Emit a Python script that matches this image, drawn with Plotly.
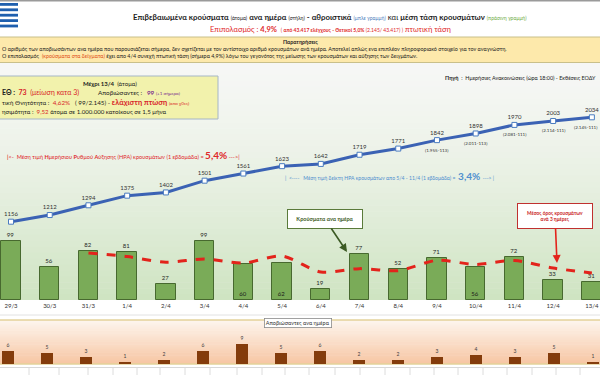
import plotly.graph_objects as go

# ---------------- data ----------------
dates = ["29/3", "30/3", "31/3", "1/4", "2/4", "3/4", "4/4", "5/4",
         "6/4", "7/4", "8/4", "9/4", "10/4", "11/4", "12/4", "13/4"]
daily_cases = [99, 56, 82, 81, 27, 99, 60, 62, 19, 77, 52, 71, 56, 72, 33, 31]
cumulative_cases = [1156, 1212, 1294, 1375, 1402, 1501, 1561, 1623,
                    1642, 1719, 1771, 1842, 1898, 1970, 2003, 2034]
avg_3days = [None, None, 79.0, 73.0, 63.3, 69.0, 62.0, 73.7,
             47.0, 52.7, 49.3, 66.7, 59.7, 66.3, 53.7, 45.3]
daily_deaths = [6, 5, 3, 1, 2, 6, 9, 5, 6, 2, 2, 3, 4, 3, 5, 1]
cumulative_notes = [None, None, None, None, None, None, None, None,
                    None, None, None, "(1.955-113)", "(2.011-113)",
                    "(2.081-111)", "(2.114-111)", "(2.145-111)"]

W, H = 600, 375
FONT = "Lato"


def px(x):
    return x / W


def py(y):
    return 1 - y / H


def mix(c1, c2, t):
    a = [int(c1[i:i + 2], 16) for i in (1, 3, 5)]
    b = [int(c2[i:i + 2], 16) for i in (1, 3, 5)]
    return "rgb(%d,%d,%d)" % tuple(round(a[k] + (b[k] - a[k]) * t) for k in range(3))


shapes = []


def rect(x0, y0, x1, y1, fill, line=None, lw=0, layer="below"):
    shapes.append(dict(type="rect", xref="paper", yref="paper",
                       x0=px(x0), x1=px(x1), y0=py(y1), y1=py(y0),
                       fillcolor=fill, line=dict(color=line or fill, width=lw),
                       layer=layer))


def hline(y, color, width=1, x0=0, x1=600):
    shapes.append(dict(type="line", xref="paper", yref="paper",
                       x0=px(x0), x1=px(x1), y0=py(y), y1=py(y),
                       line=dict(color=color, width=width), layer="below"))


# main background gradient
N = 40
top, bot = 63, 300
for i in range(N):
    y0 = top + (bot - top) * i / N
    y1 = top + (bot - top) * (i + 1) / N + 0.6
    t = (i / (N - 1)) ** 1.4
    rect(0, y0, 600, y1, mix("#f6f7f5", "#cfe4c2", t))

# deaths panel gradient
N2 = 20
for i in range(N2):
    y0 = 320 + 44 * i / N2
    y1 = 320 + 44 * (i + 1) / N2 + 0.6
    t = i / (N2 - 1)
    rect(0, y0, 600, y1, mix("#fdf4ec", "#f7c7a5", t))

rect(0, 300, 600, 320, "#ffffff")
rect(0, 364, 600, 375, "#ffffff")
hline(0.8, "#9a9a9a", 1.5)
hline(315, "#e2e2e2", 1)
hline(320, "#e3d29a", 1.5)
hline(364, "#e3d29a", 1.5)
hline(367.5, "#d8d8d8", 1)
for gx in [29, 59, 88, 113, 137, 160, 185, 210, 237, 262, 285, 309, 335, 360,
           385, 410, 434, 458, 483, 507, 532, 556, 580]:
    shapes.append(dict(type="line", xref="paper", yref="paper",
                       x0=px(gx), x1=px(gx), y0=py(375), y1=py(367.5),
                       line=dict(color="#dcdcdc", width=1), layer="below"))

# notes box
rect(-2, 37, 602, 62.5, "#fde9ab", "#c9c08a", 1)
# info box
rect(-2, 76, 218, 119, "#f2f2ac", "#a6b6c6", 1)
# greek flag stripes
for k in range(5):
    rect(0, 3 + k * 5.4, 18, 3 + k * 5.4 + 2.8, "#1f5fae", layer="above")

# ---------------- traces ----------------
fig = go.Figure()

bar_pos = ["outside"] * len(daily_cases)
for k in (6, 7, 12):
    bar_pos[k] = "inside"

fig.add_trace(go.Bar(
    x=dates, y=daily_cases, xaxis="x", yaxis="y", width=0.5,
    marker=dict(color="#7aab58", line=dict(color="#47692f", width=1)),
    text=daily_cases, textposition=bar_pos, insidetextanchor="start",
    textfont=dict(size=6, color="#262626", family=FONT),
    outsidetextfont=dict(size=6, color="#262626", family=FONT),
    insidetextfont=dict(size=6, color="#1a1a1a", family=FONT),
    cliponaxis=False, showlegend=False, hoverinfo="x+y"))

fig.add_trace(go.Scatter(
    x=dates, y=avg_3days, xaxis="x", yaxis="y", mode="lines",
    line=dict(color="#e3231b", width=3, dash="dash", shape="spline", smoothing=0.8),
    showlegend=False, connectgaps=False))

fig.add_trace(go.Scatter(
    x=dates, y=cumulative_cases, xaxis="x", yaxis="y2",
    mode="lines+markers+text",
    line=dict(color="#3b62b4", width=3),
    marker=dict(symbol="square", size=5, color="#ffffff",
                line=dict(color="#4a7cc0", width=1)),
    text=[str(v) for v in cumulative_cases], textposition="top center",
    textfont=dict(size=6, color="#333333", family=FONT),
    cliponaxis=False, showlegend=False))

fig.add_trace(go.Bar(
    x=dates, y=daily_deaths, xaxis="x2", yaxis="y3", width=0.31,
    marker=dict(color="#843c0c", line=dict(width=0)),
    text=daily_deaths, textposition="outside",
    textfont=dict(size=5, color="#404040", family=FONT),
    cliponaxis=False, showlegend=False))

# ---------------- annotations ----------------
ann = []


def note(x, y, text, size=6, color="#222222", anchor="left", **kw):
    d = dict(xref="paper", yref="paper", x=px(x), y=py(y), text=text,
             showarrow=False, xanchor=anchor, yanchor="middle",
             font=dict(size=size, color=color, family=FONT))
    d.update(kw)
    ann.append(d)


note(330, 17,
     "<b>Επιβεβαιωμένα κρούσματα</b> <span style='font-size:5px'>(άτομα)</span> "
     "<b>ανα ημέρα</b> <span style='font-size:5px'>(στήλη)</span> <b>- αθροιστικά</b> "
     "<span style='font-size:5px;color:#4f81bd'>(μπλε γραμμή)</span> και "
     "<b>μέση τάση κρουσμάτων</b> <span style='font-size:5px;color:#70ad47'>(πράσινη γραμμή)</span>",
     size=7.8, color="#1a1a1a", anchor="center")
note(330, 29,
     "Επιπολασμός : <b>4,9%</b>  <span style='font-size:5px'>( <b>από 43.417 ελέγχους - Θετικοί 5,0%</b> "
     "(2.145/ 43.417) )</span> πτωτική τάση",
     size=7.5, color="#e0282a", anchor="center")

note(300, 42, "<b>Παρατηρήσεις</b>", size=5.3, anchor="center")
note(0, 49,
     "Ο αριθμός των αποβιωσάντων ανα ημέρα που παρουσιάζεται σήμερα, δεν σχετίζεται με τον "
     "αντίστοιχο αριθμό κρουσμάτων ανά ημέρα. Αποτελεί απλώς ενα επιπλέον πληροφοριακό στοιχείο "
     "για τον αναγνώστη.", size=5.4)
note(0, 56,
     "Ο επιπολασμός  <span style='color:#e0501a'>(κρούσματα στα δείγματα)</span> έχει απο 4/4 συνεχή "
     "πτωτική τάση (σήμερα 4,9%) λόγω του γεγονότος της μείωσης των κρουσμάτων και αύξησης "
     "των δειγμάτων.", size=5.4)

note(110, 83.5, "<b>Μέχρι 13/4</b>  (άτομα)", size=6, anchor="center")
note(0, 92.8, "<b>ΕΘ :  <span style='color:#d8262a'>73</span></b>  "
     "<span style='color:#d8262a'>(μείωση κατα 3)</span>", size=7)
note(96, 92.8, "Αποβιώσαντες :   <b><span style='color:#7a2c8c'>99</span></b> "
     "<span style='font-size:4.5px;color:#7a2c8c'>(+1 σήμερα)</span>", size=6.3)
note(0, 102.5, "τική Θνητότητα :  <span style='color:#d8262a'>4,62%</span>   ( 99/2.145) - "
     "<b><span style='color:#d8262a;font-size:7.5px'>ελάχιστη πτώση</span></b> "
     "<span style='font-size:4.5px;color:#d8262a'>(απο χθες)</span>", size=6.3)
note(0, 111.5, "ησιμότητα :  <span style='color:#d8262a'>9,52</span> άτομα σε 1.000.000 "
     "κατοίκους σε 1,5 μήνα", size=6.1)

note(598, 78, "<b>Πηγή</b>  :  Ημερήσιες Ανακοινώσεις (ώρα 18:00) - Εκθέσεις ΕΟΔΥ",
     size=5.4, anchor="right")

note(5, 155,
     "<b>|</b><-  Μέση τιμή <b>Η</b>μερήσιου <b>Ρ</b>υθμού <b>Α</b>ύξησης (ΗΡΑ) κρουσμάτων "
     "(1 εβδομάδα) = <b><span style='font-size:10px'>5,4%</span></b> --->|",
     size=5.6, color="#e0282a")
note(283, 176,
     "|  <----   Μέση τιμή δείκτη ΗΡΑ κρουσμάτων απο 5/4 - 11/4 (1 εβδομάδα) =  "
     "<b><span style='font-size:10px'>3,4%</span></b>  ---> |",
     size=5.1, color="#4f8fcf")

# callouts
ann.append(dict(xref="paper", yref="paper", x=px(347), y=py(252),
                ax=325 - 347, ay=219 - 252, axref="pixel", ayref="pixel",
                text="<b>Κρούσματα ανα ημέρα</b>", showarrow=True,
                arrowhead=2, arrowsize=1, arrowwidth=1.6, arrowcolor="#3c5a24",
                font=dict(size=5.5, color="#3c5a24", family=FONT),
                bgcolor="#ffffff", bordercolor="#5a7a3a", borderwidth=1,
                width=70, height=14, borderpad=2))
ann.append(dict(xref="paper", yref="paper", x=px(557), y=py(263),
                ax=555 - 557, ay=215.5 - 263, axref="pixel", ayref="pixel",
                text="<b>Μέσος όρος κρουσμάτων<br>ανά 3 ημέρες</b>", showarrow=True,
                arrowhead=2, arrowsize=1, arrowwidth=1.6, arrowcolor="#e3231b",
                font=dict(size=4.8, color="#c8191a", family=FONT),
                bgcolor="#ffffff", bordercolor="#c0312f", borderwidth=1,
                width=70, height=20, borderpad=2))

note(297.5, 322.5, "Αποβιώσαντες ανα ημέρα", size=5.5, color="#333333", anchor="center",
     bgcolor="#ffffff", bordercolor="#8a8a8a", borderwidth=0.8, borderpad=1)

# notes under cumulative points
last = len(dates) - 1
for i, (d, v, t) in enumerate(zip(dates, cumulative_cases, cumulative_notes)):
    if t:
        extra = dict(xanchor="right", xshift=7) if i == last else {}
        a = dict(xref="x", yref="y2", x=d, y=v, text=t, showarrow=False,
                 yshift=-10, font=dict(size=4.5, color="#333333", family=FONT))
        a.update(extra)
        ann.append(a)

# ---------------- layout ----------------
fig.update_layout(
    width=W, height=H,
    margin=dict(l=0, r=0, t=0, b=0),
    paper_bgcolor="#ffffff", plot_bgcolor="rgba(0,0,0,0)",
    font=dict(family=FONT, color="#222222"),
    barmode="overlay", bargap=0,
    shapes=shapes, annotations=ann,
    xaxis=dict(domain=[0, 1], range=[-0.284, 15.21], anchor="y",
               tickfont=dict(size=6, color="#333333"), ticks="", showgrid=False,
               showline=False, zeroline=False, ticklabelstandoff=1),
    yaxis=dict(domain=[py(300), py(100)], range=[0, 336], visible=False,
               showgrid=False, zeroline=False),
    yaxis2=dict(domain=[py(300), py(100)], range=[497.5, 2179.5], overlaying="y",
                anchor="x", visible=False, showgrid=False),
    xaxis2=dict(domain=[0, 1], range=[-0.205, 15.18], anchor="y3", visible=False),
    yaxis3=dict(domain=[py(364), py(320)], range=[0, 20], visible=False,
                showgrid=False, zeroline=False),
)

fig.write_html("out.html", config={"displayModeBar": False},
               post_script="document.body.style.margin='0';document.body.style.overflow='hidden';")
